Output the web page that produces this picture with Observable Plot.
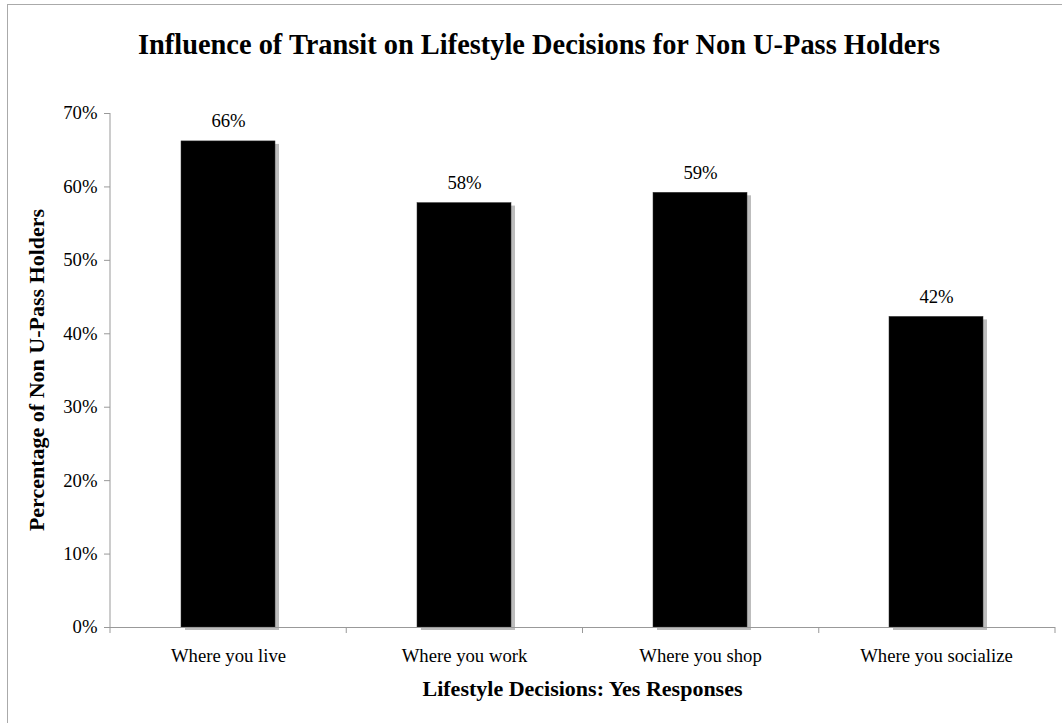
<!DOCTYPE html>
<html>
<head>
<meta charset="utf-8">
<script src="https://cdn.jsdelivr.net/npm/d3@7"></script>
<script src="https://cdn.jsdelivr.net/npm/@observablehq/plot@0.6"></script>
<style>
  html, body { margin: 0; padding: 0; background: #fff; }
  body { width: 1062px; height: 723px; overflow: hidden; position: relative; font-family: 'Liberation Serif', 'Times New Roman', serif; }
  #frame { position: absolute; left: 7px; top: 4px; width: 1100px; height: 800px; border: 1px solid #aaa; box-sizing: border-box; z-index: 2; pointer-events: none; }
  #wrap { position: absolute; left: 0; top: 0; width: 1062px; }
  #title { height: 95px; box-sizing: border-box; padding-top: 29px; text-align: center; font-weight: bold; font-size: 28.4px; color: #000; line-height: 32px; padding-left: 16px; white-space: nowrap; }
  svg { display: block; }
  svg text { font-family: 'Liberation Serif', 'Times New Roman', serif !important; }
</style>
</head>
<body>
<div id="frame"></div>
<div id="wrap">
  <div id="title">Influence of Transit on Lifestyle Decisions for Non U-Pass Holders</div>
  <div id="chart"></div>
</div>
<script>
const categories = ["Where you live", "Where you work", "Where you shop", "Where you socialize"];
const values = [0.662, 0.578, 0.592, 0.423];
const valueLabels = ["66%", "58%", "59%", "42%"];
const yTicks = [0, 0.1, 0.2, 0.3, 0.4, 0.5, 0.6, 0.7];
const yLabel = "Percentage of Non U-Pass Holders";
const xLabel = "Lifestyle Decisions: Yes Responses";

const data = categories.map((c, i) => ({cat: c, value: values[i], label: valueLabels[i]}));

const W = 1062, H = 628, ML = 110, MR = 7, MT = 18, MB = 96;
const serif = "'Liberation Serif', 'Times New Roman', serif";
const FS = 18.7;

const plot = Plot.plot({
  width: W,
  height: H,
  marginLeft: ML,
  marginRight: MR,
  marginTop: MT,
  marginBottom: MB,
  style: {fontFamily: serif, fontSize: FS + "px", color: "#000", background: "transparent", overflow: "visible"},
  x: {domain: categories, paddingInner: 0.6, paddingOuter: 0.3, label: null},
  y: {domain: [0, 0.7], label: null},
  marks: [
    Plot.barY(data, {x: "cat", y: "value", fill: "#bdbdbd", dx: 4, dy: 3}),
    Plot.barY(data, {x: "cat", y: "value", fill: "#000", stroke: "#333", strokeWidth: 0.5}),
    Plot.text(data, {x: "cat", y: "value", text: "label", dy: -20, fontSize: FS, fontFamily: serif, fill: "#000"}),
    Plot.axisY({ticks: yTicks, tickFormat: d3.format(".0%"), tickSize: 6, tickPadding: 7, stroke: "#999", fill: "#000", fontSize: FS, fontFamily: serif, label: null}),
    Plot.axisX({tickSize: 0, tickPadding: 21, fontSize: FS, fontFamily: serif, fill: "#000", label: null}),
    Plot.ruleY([0], {stroke: "#999"})
  ]
});

const svg = d3.select(plot);
const xs = plot.scale("x");
const ys = plot.scale("y");
const [r0, r1] = xs.range;
const step = (r1 - r0) / categories.length;
const y0 = ys.apply(0);
const yTop = ys.apply(0.7);
// y axis line
svg.append("line").attr("x1", ML).attr("x2", ML).attr("y1", yTop).attr("y2", y0).attr("stroke", "#999");
// x boundary ticks
for (let i = 0; i <= categories.length; i++) {
  const x = r0 + i * step;
  svg.append("line").attr("x1", x).attr("x2", x).attr("y1", y0).attr("y2", y0 + 6).attr("stroke", "#999");
}
// axis titles
svg.append("text")
  .attr("transform", `translate(39,${(yTop + y0) / 2}) rotate(-90)`)
  .attr("text-anchor", "middle").attr("dominant-baseline", "middle")
  .attr("font-family", serif).attr("font-weight", "bold").attr("font-size", 22)
  .text(yLabel);
svg.append("text")
  .attr("x", (r0 + r1) / 2).attr("y", y0 + 64)
  .attr("text-anchor", "middle").attr("dominant-baseline", "middle")
  .attr("font-family", serif).attr("font-weight", "bold").attr("font-size", 22)
  .text(xLabel);

document.getElementById("chart").appendChild(plot);
</script>
</body>
</html>
